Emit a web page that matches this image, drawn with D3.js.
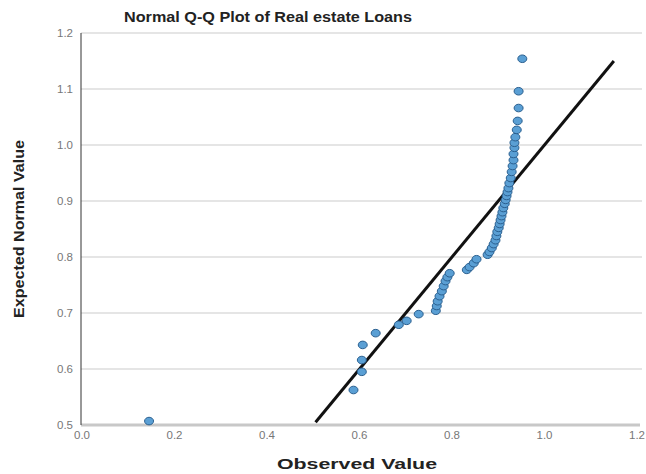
<!DOCTYPE html>
<html>
<head>
<meta charset="utf-8">
<script src="https://cdn.jsdelivr.net/npm/d3@7"></script>
<style>
  body { margin: 0; background: #fff; }
  svg { display: block; font-family: "Liberation Sans", Arial, sans-serif; }
</style>
</head>
<body>
<svg id="chart"></svg>
<script>
const observed = [
  0.145, 0.587, 0.605, 0.605, 0.607, 0.635, 0.685, 0.702, 0.728,
  0.765, 0.767, 0.769, 0.773, 0.778, 0.782, 0.786, 0.790, 0.795,
  0.832, 0.838, 0.847, 0.853,
  0.877, 0.881, 0.886, 0.890, 0.894, 0.896, 0.898, 0.901, 0.903,
  0.905, 0.907, 0.909, 0.911, 0.914, 0.916, 0.918, 0.920, 0.922,
  0.924, 0.927, 0.929, 0.931, 0.933, 0.933, 0.935, 0.935, 0.937,
  0.940, 0.942, 0.944, 0.944, 0.952
];
const expected = [
  0.507, 0.5625, 0.595, 0.616, 0.643, 0.664, 0.679, 0.686, 0.698,
  0.704, 0.7125, 0.721, 0.730, 0.739, 0.748, 0.757, 0.764, 0.771,
  0.777, 0.782, 0.789, 0.796,
  0.804, 0.809, 0.816, 0.823, 0.830, 0.8375, 0.845, 0.852, 0.859,
  0.866, 0.873, 0.880, 0.8875, 0.895, 0.902, 0.909, 0.916, 0.923,
  0.932, 0.941, 0.952, 0.9625, 0.973, 0.984, 0.995, 1.004, 1.014,
  1.027, 1.043, 1.066, 1.096, 1.154
];
const refLine = [0.505, 1.15];
const xTicks = [0.0, 0.2, 0.4, 0.6, 0.8, 1.0, 1.2];
const yTicks = [0.5, 0.6, 0.7, 0.8, 0.9, 1.0, 1.1, 1.2];

const width = 646, height = 474;
const svg = d3.select("#chart").attr("width", width).attr("height", height);

const x = d3.scaleLinear().domain([0, 1.2]).range([82, 637]);
const y = d3.scaleLinear().domain([0.5, 1.2]).range([425, 33]);

// horizontal grid lines
svg.append("g")
  .selectAll("line")
  .data(yTicks.slice(1))
  .join("line")
  .attr("x1", 81).attr("x2", 642)
  .attr("y1", d => y(d)).attr("y2", d => y(d))
  .attr("stroke", "#dcdcdc")
  .attr("stroke-width", 1.5);

// bottom axis line (grey, thick)
svg.append("line")
  .attr("x1", 81).attr("x2", 640)
  .attr("y1", y(0.5)).attr("y2", y(0.5))
  .attr("stroke", "#c8c8c8")
  .attr("stroke-width", 3);

// y axis line
svg.append("line")
  .attr("x1", 81).attr("x2", 81)
  .attr("y1", y(1.2)).attr("y2", y(0.5))
  .attr("stroke", "#333")
  .attr("stroke-width", 1);

// y tick labels
svg.append("g")
  .selectAll("text")
  .data(yTicks)
  .join("text")
  .attr("x", 73)
  .attr("y", d => y(d) + 4)
  .attr("text-anchor", "end")
  .attr("font-size", 11.5)
  .attr("fill", "#777")
  .text(d => d3.format(".1f")(d));

// x tick labels
svg.append("g")
  .selectAll("text")
  .data(xTicks)
  .join("text")
  .attr("x", d => x(d))
  .attr("y", 439)
  .attr("text-anchor", "middle")
  .attr("font-size", 11.5)
  .attr("fill", "#777")
  .text(d => d3.format(".1f")(d));

// reference line
svg.append("line")
  .attr("x1", x(refLine[0])).attr("y1", y(refLine[0]))
  .attr("x2", x(refLine[1])).attr("y2", y(refLine[1]))
  .attr("stroke", "#111")
  .attr("stroke-width", 3);

// points
svg.append("g")
  .selectAll("ellipse")
  .data(d3.zip(observed, expected))
  .join("ellipse")
  .attr("cx", d => x(d[0]))
  .attr("cy", d => y(d[1]))
  .attr("rx", 4.5)
  .attr("ry", 3.8)
  .attr("fill", "#5a9fd4")
  .attr("stroke", "#2a5f8f")
  .attr("stroke-width", 1);

// title
svg.append("text")
  .attr("x", 268).attr("y", 22)
  .attr("text-anchor", "middle")
  .attr("font-size", 14)
  .attr("font-weight", "bold")
  .attr("fill", "#222")
  .attr("textLength", 288)
  .attr("lengthAdjust", "spacingAndGlyphs")
  .text("Normal Q-Q Plot of Real estate Loans");

// x axis title
svg.append("text")
  .attr("x", 357).attr("y", 469)
  .attr("text-anchor", "middle")
  .attr("font-size", 15)
  .attr("font-weight", "bold")
  .attr("fill", "#222")
  .attr("textLength", 160)
  .attr("lengthAdjust", "spacingAndGlyphs")
  .text("Observed Value");

// y axis title
svg.append("text")
  .attr("transform", "translate(24,229) rotate(-90)")
  .attr("text-anchor", "middle")
  .attr("font-size", 15)
  .attr("font-weight", "bold")
  .attr("fill", "#222")
  .attr("textLength", 178)
  .attr("lengthAdjust", "spacingAndGlyphs")
  .text("Expected Normal Value");
</script>
</body>
</html>
